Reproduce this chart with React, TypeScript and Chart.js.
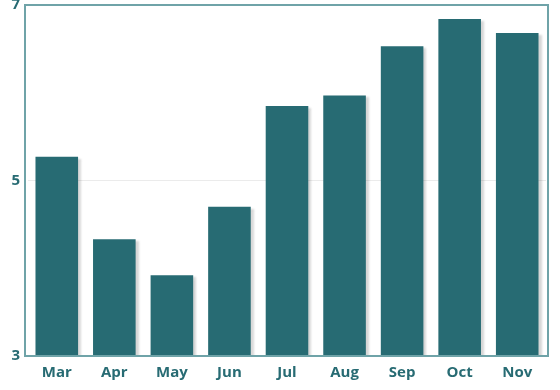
import React, { useEffect, useRef } from "react";
import { Chart, registerables } from "chart.js";

Chart.register(...registerables);

const categories = ["Mar", "Apr", "May", "Jun", "Jul", "Aug", "Sep", "Oct", "Nov"];
const values = [5.27, 4.33, 3.92, 4.7, 5.85, 5.97, 6.53, 6.84, 6.68];
const yTicks = [3, 5, 7];

const TEAL = "#276b73";
const BORDER = "#6fa3a8";

const borderPlugin = {
  id: "frameBorder",
  afterDraw(chart: any) {
    const { ctx, chartArea } = chart;
    ctx.save();
    ctx.strokeStyle = BORDER;
    ctx.lineWidth = 2;
    ctx.strokeRect(chartArea.left - 3, chartArea.top, chartArea.right - chartArea.left + 5, chartArea.bottom - chartArea.top);
    ctx.restore();
  },
};

const shadowPlugin = {
  id: "barShadow",
  beforeDatasetDraw(chart: any) {
    const ctx = chart.ctx;
    ctx.save();
    ctx.shadowColor = "rgba(0,0,0,0.16)";
    ctx.shadowOffsetX = 3;
    ctx.shadowOffsetY = 2;
    ctx.shadowBlur = 2;
  },
  afterDatasetDraw(chart: any) {
    chart.ctx.restore();
  },
};

export default function App() {
  const ref = useRef<HTMLCanvasElement>(null);
  useEffect(() => {
    document.body.style.margin = "0";
    const chart = new Chart(ref.current!, {
      type: "bar",
      data: {
        labels: categories,
        datasets: [
          {
            data: values,
            backgroundColor: TEAL,
            borderWidth: 0,
            barPercentage: 1,
            categoryPercentage: 0.74,
          },
        ],
      },
      options: {
        animation: false,
        responsive: false,
        layout: { padding: { top: 5, right: 14, bottom: 0, left: 0 } },
        plugins: { legend: { display: false }, tooltip: { enabled: false } },
        scales: {
          x: {
            grid: { display: false, drawTicks: false },
            border: { display: false },
            ticks: {
              color: TEAL,
              padding: 8,
              font: { family: "'Open Sans'", size: 15, weight: "bold" },
            },
            afterFit(scale: any) {
              scale.height = 34;
            },
          },
          y: {
            min: 3,
            max: 7,
            afterBuildTicks(scale: any) {
              scale.ticks = yTicks.map((v) => ({ value: v }));
            },
            grid: { color: "#ebebeb", drawTicks: false, lineWidth: 1 },
            border: { display: false },
            ticks: {
              color: TEAL,
              padding: 8,
              font: { family: "'Open Sans'", size: 15, weight: "bold", lineHeight: 0.3 },
            },
            afterFit(scale: any) {
              scale.width = 28;
              scale.paddingTop = 0;
              scale.paddingBottom = 0;
            },
          },
        },
      },
      plugins: [shadowPlugin, borderPlugin],
    });
    return () => chart.destroy();
  }, []);
  return <canvas ref={ref} width={560} height={390} style={{ display: "block" }} />;
}
